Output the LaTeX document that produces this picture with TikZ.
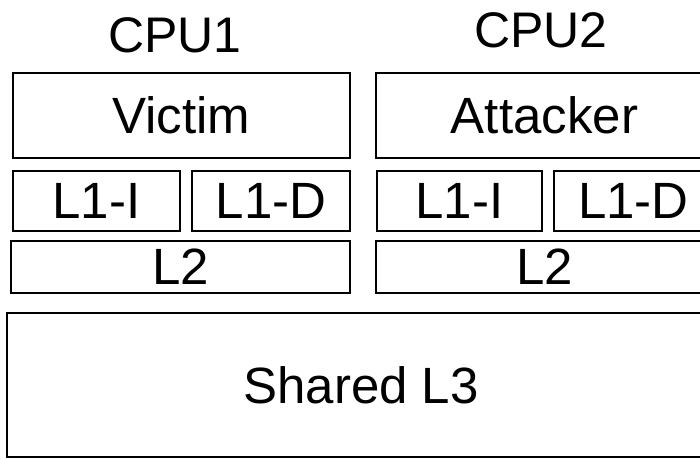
\documentclass[tikz,border=0pt]{standalone}
\usepackage{fontspec}
\setmainfont{Liberation Sans}

\tikzset{
  cachebox/.style={draw, line width=2pt, inner sep=0pt, text depth=0pt,
    font=\fontsize{51}{51}\selectfont},
  cpulabel/.style={anchor=base, font=\fontsize{50}{50}\selectfont},
}

\begin{document}
\begin{tikzpicture}[x=1pt,y=-1pt]
\useasboundingbox (0,0) rectangle (700,459);

\node[cpulabel] (cpuone) at (175,52) {CPU1};
\node[cpulabel] (cputwo) at (541,47) {CPU2};

% CPU1 side
\node[cachebox, minimum width=337pt, minimum height=85pt] (victim) at (181.5,115.5) {Victim};
\node[cachebox, minimum width=167pt, minimum height=60pt] (lIia) at (96.5,201) {L1-I};
\node[cachebox, minimum width=158pt, minimum height=60pt] (lIda) at (271,201) {L1-D};
\node[cachebox, minimum width=339pt, minimum height=52pt] (lIIa) at (180.5,267) {L2};

% CPU2 side
\node[cachebox, minimum width=337pt, minimum height=85pt] (attacker) at (544.5,115.5) {Attacker};
\node[cachebox, minimum width=165pt, minimum height=60pt] (lIib) at (459.5,201) {L1-I};
\node[cachebox, minimum width=159pt, minimum height=60pt] (lIdb) at (633.5,201) {L1-D};
\node[cachebox, minimum width=337pt, minimum height=52pt] (lIIb) at (544.5,267) {L2};

\node[cachebox, minimum width=708pt, minimum height=144pt] (lIII) at (361,385) {Shared L3};
\end{tikzpicture}
\end{document}
